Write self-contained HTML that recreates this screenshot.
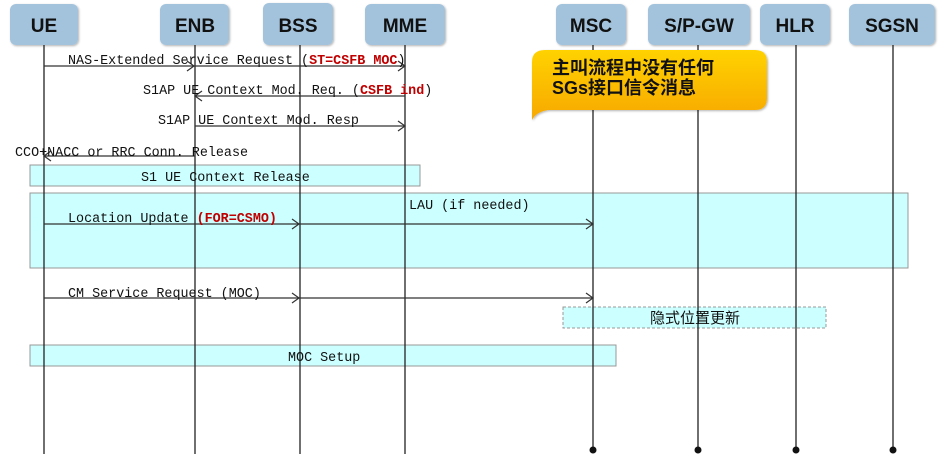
<!DOCTYPE html>
<html><head><meta charset="utf-8"><style>
body{margin:0;background:#fff;width:945px;height:454px;overflow:hidden}
svg{display:block}
.h{font-family:"Liberation Sans","Noto Sans CJK SC",sans-serif;font-weight:bold;font-size:19px;fill:#111;text-anchor:middle}
.m{font-family:"Liberation Mono","Noto Sans CJK SC",monospace;font-size:13.4px;fill:#111}
.r{fill:#c00000;font-weight:bold}
</style></head><body>
<svg width="945" height="454" viewBox="0 0 945 454">
<defs>
<linearGradient id="g" x1="0" y1="0" x2="0" y2="1"><stop offset="0" stop-color="#ffd200"/><stop offset="1" stop-color="#f7a800"/></linearGradient>
<filter id="s"><feDropShadow dx="1" dy="1" stdDeviation="1" flood-opacity="0.3"/></filter>
</defs>
<g filter="url(#s)" fill="#a3c3dc">
<rect x="10" y="4" width="68" height="41" rx="6"/>
<rect x="160" y="4" width="69" height="41" rx="6"/>
<rect x="263" y="3" width="70" height="42" rx="6"/>
<rect x="365" y="4" width="80" height="41" rx="6"/>
<rect x="556" y="4" width="70" height="41" rx="6"/>
<rect x="648" y="4" width="102" height="41" rx="6"/>
<rect x="760" y="4" width="70" height="41" rx="6"/>
<rect x="849" y="4" width="86" height="41" rx="6"/>
</g>
<text class="h" x="44" y="32">UE</text>
<text class="h" x="195" y="32">ENB</text>
<text class="h" x="298" y="32">BSS</text>
<text class="h" x="405" y="32">MME</text>
<text class="h" x="591" y="32">MSC</text>
<text class="h" x="699" y="32">S/P-GW</text>
<text class="h" x="795" y="32">HLR</text>
<text class="h" x="892" y="32">SGSN</text>
<rect x="30" y="165" width="390" height="21" fill="#ccffff" stroke="#999"/>
<rect x="30" y="193" width="878" height="75" fill="#ccffff" stroke="#999"/>
<rect x="563" y="307" width="263" height="21" fill="#ccffff" stroke="#999" stroke-dasharray="3,2"/>
<rect x="30" y="345" width="586" height="21" fill="#ccffff" stroke="#999"/>
<g stroke="#222" stroke-width="1.3">
<line x1="44" y1="45" x2="44" y2="454"/>
<line x1="195" y1="45" x2="195" y2="454"/>
<line x1="300" y1="45" x2="300" y2="454"/>
<line x1="405" y1="45" x2="405" y2="454"/>
<line x1="593" y1="45" x2="593" y2="450"/>
<line x1="698" y1="45" x2="698" y2="450"/>
<line x1="796" y1="45" x2="796" y2="450"/>
<line x1="893" y1="45" x2="893" y2="450"/>
</g>
<g fill="#111"><circle cx="593" cy="450" r="3.5"/><circle cx="698" cy="450" r="3.5"/><circle cx="796" cy="450" r="3.5"/><circle cx="893" cy="450" r="3.5"/></g>
<path d="M545,50 H755 Q767,50 767,62 V98 Q767,110 755,110 H548 Q536,112 532,120 V62 Q532,50 545,50 Z" fill="url(#g)" filter="url(#s)"/>
<text x="552" y="74" style="font-family:'Liberation Sans','Noto Sans CJK SC',sans-serif;font-weight:bold;font-size:18px" fill="#111">主叫流程中没有任何</text>
<text x="552" y="94" style="font-family:'Liberation Sans','Noto Sans CJK SC',sans-serif;font-weight:bold;font-size:18px" fill="#111">SGs接口信令消息</text>
<g stroke="#333" stroke-width="1.2" fill="none">
<line x1="44" y1="66" x2="405" y2="66"/><path d="M187,61 L194,66 L187,71 M398,61 L405,66 L398,71"/>
<line x1="195" y1="96" x2="405" y2="96"/><path d="M202,91 L195,96 L202,101"/>
<line x1="195" y1="126" x2="405" y2="126"/><path d="M398,121 L405,126 L398,131"/>
<line x1="44" y1="156" x2="195" y2="156"/><path d="M51,151 L44,156 L51,161"/>
<line x1="44" y1="224" x2="593" y2="224"/><path d="M292,219 L299,224 L292,229 M586,219 L593,224 L586,229"/>
<line x1="44" y1="298" x2="593" y2="298"/><path d="M292,293 L299,298 L292,303 M586,293 L593,298 L586,303"/>
</g>
<text class="m" x="68" y="64">NAS-Extended Service Request (<tspan class="r">ST=CSFB MOC</tspan>)</text>
<text class="m" x="143" y="94">S1AP UE Context Mod. Req. (<tspan class="r">CSFB ind</tspan>)</text>
<text class="m" x="158" y="124">S1AP UE Context Mod. Resp</text>
<text class="m" x="15" y="156">CCO+NACC or RRC Conn. Release</text>
<text class="m" x="141" y="181">S1 UE Context Release</text>
<text class="m" x="409" y="209">LAU (if needed)</text>
<text class="m" x="68" y="222">Location Update <tspan class="r">(FOR=CSMO)</tspan></text>
<text class="m" x="68" y="297">CM Service Request (MOC)</text>
<text x="695" y="323" text-anchor="middle" style="font-family:'Noto Sans CJK SC',sans-serif;font-size:15px" fill="#111">隐式位置更新</text>
<text class="m" x="288" y="361">MOC Setup</text>
</svg>
</body></html>
